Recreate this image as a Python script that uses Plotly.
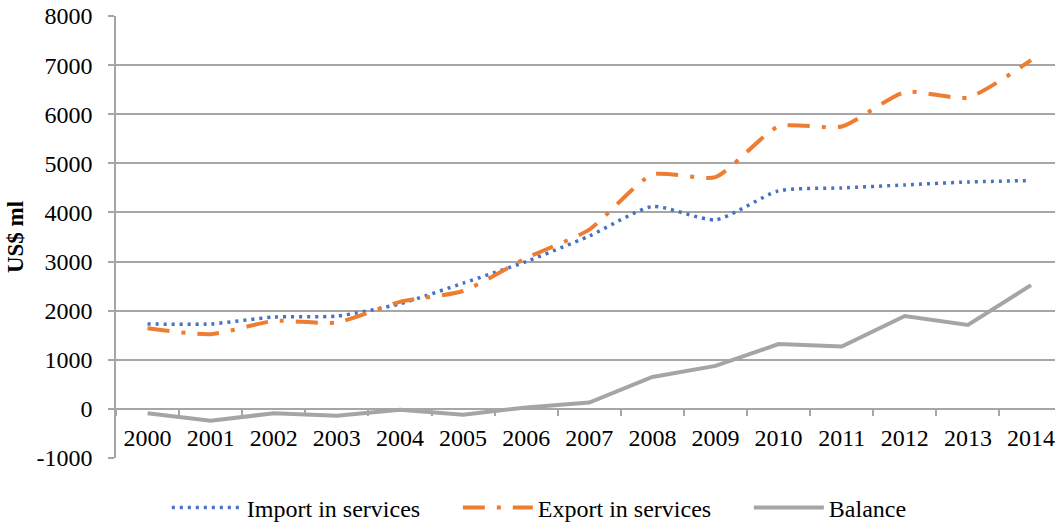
import plotly.graph_objects as go

years = [str(y) for y in range(2000, 2015)]
import_services = [1730, 1730, 1870, 1890, 2140, 2560, 3000, 3520, 4120, 3850, 4440, 4500, 4560, 4620, 4650]
export_services = [1640, 1520, 1790, 1760, 2180, 2400, 3070, 3650, 4770, 4720, 5750, 5750, 6450, 6340, 7100]
balance = [-90, -240, -90, -140, -20, -120, 30, 130, 650, 875, 1320, 1270, 1890, 1710, 2520]
y_ticks = [-1000, 0, 1000, 2000, 3000, 4000, 5000, 6000, 7000, 8000]
y_labels = [str(v) for v in y_ticks]  # plain hyphen, as in the source

font = "Liberation Serif, Times New Roman, serif"
grid = "#a6a6a6"

fig = go.Figure()
fig.add_trace(go.Scatter(
    x=years, y=import_services, name="Import in services", mode="lines",
    line=dict(color="#4472C4", width=3.5, dash="3px,5px", shape="spline", smoothing=0.6),
))
fig.add_trace(go.Scatter(
    x=years, y=export_services, name="Export in services", mode="lines",
    line=dict(color="#ED7D31", width=4, dash="22px,12px,4px,12px", shape="spline", smoothing=0.6),
))
fig.add_trace(go.Scatter(
    x=years, y=balance, name="Balance", mode="lines",
    line=dict(color="#A5A5A5", width=4),
))

# x axis sits on the zero line: 1000 / 9000 of the plot height
fig.update_layout(
    width=1055, height=522,
    margin=dict(l=116, r=0, t=16, b=64),
    plot_bgcolor="white", paper_bgcolor="white",
    font=dict(family=font, size=24, color="black"),
    xaxis=dict(
        type="category", range=[-0.5, 14.38],
        anchor="free", position=1 / 9, automargin=False,
        showgrid=False, showline=False,
        ticks="outside", tickson="boundaries", ticklen=6, tickcolor=grid, tickwidth=1.5,
        ticklabelstandoff=12,
    ),
    yaxis=dict(
        range=[-1000, 8000], tickvals=y_ticks, ticktext=y_labels, automargin=False,
        showgrid=True, gridcolor=grid, gridwidth=1.5,
        zeroline=True, zerolinecolor=grid, zerolinewidth=1.5,
        showline=True, linecolor=grid, linewidth=1.5,
        ticks="outside", ticklen=6, tickcolor=grid, tickwidth=1.5,
        ticklabelstandoff=11,
        title=dict(text="<b>US$ ml</b>", font=dict(size=23), standoff=6),
    ),
    legend=dict(
        orientation="h", x=0.519, xanchor="center",
        yref="container", y=0.027, yanchor="middle",
        itemwidth=70, entrywidth=206,
    ),
)

fig.write_html("out.html", config={"displayModeBar": False},
               post_script="document.body.style.margin='0';")
